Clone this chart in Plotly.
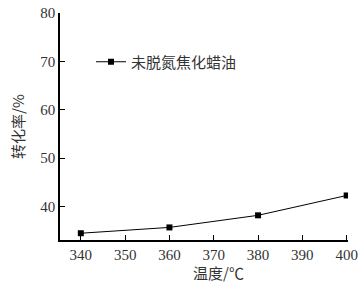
import plotly.graph_objects as go

temps = [340, 360, 380, 400]
conversion = [34.5, 35.7, 38.2, 42.3]
series_name = "未脱氮焦化蜡油"
x_ticks = [340, 350, 360, 370, 380, 390, 400]
y_ticks = [40, 50, 60, 70, 80]
x_title = "温度/℃"
y_title = "转化率/%"

L, R, T, B = 60, 14, 13, 48
W, H = 362, 288

fig = go.Figure()
fig.add_trace(go.Scatter(
    x=temps, y=conversion, mode="lines+markers", name=series_name,
    line=dict(color="black", width=1),
    marker=dict(symbol="square", size=6, color="black"),
))
fig.update_layout(
    width=W, height=H,
    margin=dict(l=L, r=R, t=T, b=B, autoexpand=False),
    paper_bgcolor="white", plot_bgcolor="white",
    showlegend=True,
    legend=dict(x=(91 - L) / (W - L - R), y=(H - B - 62) / (H - T - B),
                xanchor="left", yanchor="middle",
                font=dict(family="Noto Sans CJK SC", size=15, color="#333"),
                bgcolor="rgba(0,0,0,0)", itemwidth=30),
    font=dict(family="Liberation Serif", size=14, color="#333"),
    annotations=[
        dict(text=x_title, xref="paper", yref="paper",
             x=(218 - L) / (W - L - R), y=-(272 - (H - B)) / (H - T - B),
             xanchor="center", yanchor="middle", showarrow=False,
             font=dict(family="Noto Sans CJK SC", size=15, color="#333")),
        dict(text=y_title, xref="paper", yref="paper",
             x=-(L - 17) / (W - L - R), y=(H - B - 127) / (H - T - B),
             xanchor="center", yanchor="middle", showarrow=False, textangle=-90,
             font=dict(family="Noto Sans CJK SC", size=15, color="#333")),
    ],
)
fig.update_xaxes(
    range=[335.3, 400.3], tickvals=x_ticks, automargin=False,
    ticks="inside", ticklen=5, tickcolor="black",
    showline=True, linecolor="black", linewidth=1.5,
    showgrid=False, zeroline=False,
    tickfont=dict(family="Liberation Serif", size=15, color="#333"),
)
fig.update_yaxes(
    range=[33.1, 80], tickvals=y_ticks, automargin=False,
    ticks="inside", ticklen=5, tickcolor="black",
    showline=True, linecolor="black", linewidth=1.5,
    showgrid=False, zeroline=False,
    tickfont=dict(family="Liberation Serif", size=15, color="#333"),
)
fig.write_html("out.html")
